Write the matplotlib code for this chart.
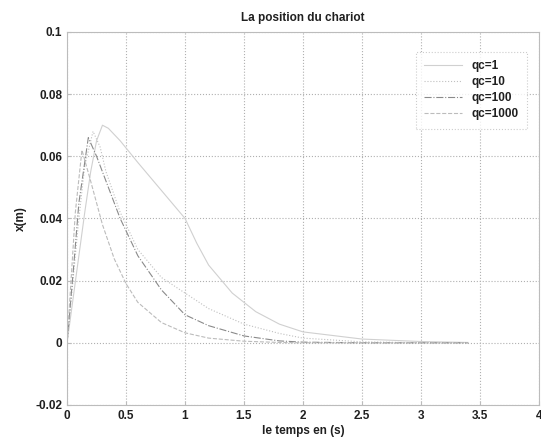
import numpy as np
import matplotlib
matplotlib.use("Agg")
import matplotlib.pyplot as plt

plt.rcParams['font.family'] = ['Liberation Sans', 'DejaVu Sans']

#Cart position responses for each weight qc
t_qc1 = [0, 0.05, 0.1, 0.15, 0.2, 0.25, 0.3, 0.35, 0.45, 0.6, 0.8, 1.0, 1.1, 1.2, 1.4, 1.6, 1.8, 2.0, 2.5, 3.0, 3.4]
x_qc1 = [0, 0.014, 0.028, 0.042, 0.055, 0.065, 0.070, 0.069, 0.065, 0.058, 0.049, 0.040, 0.032, 0.025, 0.016, 0.010, 0.006, 0.0035, 0.0012, 0.0004, 0.0001]

t_qc10 = [0, 0.05, 0.1, 0.15, 0.22, 0.28, 0.33, 0.45, 0.6, 0.8, 1.0, 1.2, 1.5, 1.8, 2.0, 2.5, 3.0, 3.4]
x_qc10 = [0, 0.02, 0.04, 0.057, 0.068, 0.063, 0.055, 0.042, 0.030, 0.021, 0.016, 0.011, 0.006, 0.003, 0.0015, 0.0003, 0, 0]

t_qc100 = [0, 0.05, 0.1, 0.18, 0.25, 0.35, 0.45, 0.5, 0.6, 0.8, 1.0, 1.2, 1.5, 1.8, 2.0, 2.5, 3.0, 3.4]
x_qc100 = [0, 0.022, 0.045, 0.066, 0.060, 0.050, 0.040, 0.036, 0.028, 0.017, 0.009, 0.0055, 0.0022, 0.0006, 0.0002, 0, 0, 0]

t_qc1000 = [0, 0.03, 0.07, 0.126, 0.2, 0.3, 0.4, 0.5, 0.6, 0.8, 1.0, 1.2, 1.5, 1.8, 2.0, 2.5, 3.0, 3.4]
x_qc1000 = [0, 0.018, 0.042, 0.062, 0.052, 0.038, 0.027, 0.019, 0.013, 0.0065, 0.0032, 0.0015, 0.0005, 0.0001, 0, 0, 0, 0]

labels = ["qc=1", "qc=10", "qc=100", "qc=1000"]
styles = ["-", ":", "-.", "--"]
colors = ["#d0d0d0", "#c0c0c0", "#8a8a8a", "#bcbcbc"]

xticks = [0, 0.5, 1, 1.5, 2, 2.5, 3, 3.5, 4]
yticks = [-0.02, 0, 0.02, 0.04, 0.06, 0.08, 0.1]

fig = plt.figure(figsize=(5.41, 4.44), dpi=100)
ax = fig.add_axes([0.124, 0.088, 0.872, 0.84])

series = [(t_qc1, x_qc1), (t_qc10, x_qc10), (t_qc100, x_qc100), (t_qc1000, x_qc1000)]
for (t, x), lab, ls, c in zip(series, labels, styles, colors):
    ax.plot(t, x, ls, color=c, lw=0.8, label=lab)

ax.set_xlim(0, 4)
ax.set_ylim(-0.02, 0.1)
ax.set_xticks(xticks)
ax.set_xticklabels([("%g" % v) for v in xticks])
ax.set_yticks(yticks)
ax.set_yticklabels([("%g" % v) for v in yticks])
ax.grid(True, linestyle=":", color="#b0b0b0", lw=0.8)
for s in ax.spines.values():
    s.set_color("#bcbcbc")
    s.set_linewidth(0.8)
ax.tick_params(direction="in", length=3, colors="#bcbcbc", labelcolor="#202020", labelsize=8.5)
for lbl in ax.get_xticklabels() + ax.get_yticklabels():
    lbl.set_fontweight("bold")

ax.set_title("La position du chariot", fontsize=8.5, color="#202020", pad=8, fontweight="bold")
ax.set_xlabel("le temps en (s)", fontsize=8.5, color="#202020", labelpad=2, fontweight="bold")
ax.set_ylabel("x(m)", fontsize=8.5, color="#202020", labelpad=6, fontweight="bold")

leg = ax.legend(loc="upper right", bbox_to_anchor=(0.975, 0.947), borderaxespad=0,
                fancybox=False, handlelength=3.2, labelcolor="#202020",
                borderpad=0.7, labelspacing=0.35,
                prop={"weight": "bold", "size": 8.5})
leg.get_frame().set_edgecolor("#c0c0c0")
leg.get_frame().set_linestyle(":")
leg.get_frame().set_linewidth(0.8)

fig.savefig("out.png", dpi=100)
